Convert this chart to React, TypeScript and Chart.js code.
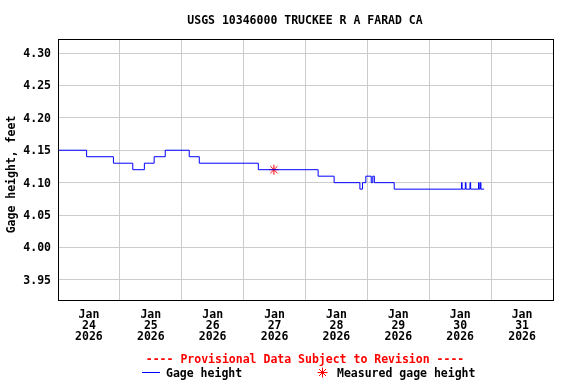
import React, { useEffect, useRef } from "react";
import { Chart, registerables } from "chart.js";

Chart.register(...registerables);

// Hours since Jan 24 2026 00:00 at which the gage height changes
const changeHours = [
  0, 11.1, 21.5, 29.0, 33.5, 37.3, 41.6, 50.9, 54.8, 77.7, 100.9, 107.1,
  117.1, 118.1, 119.4, 121.5, 122.1, 122.7, 130.4,
  156.5, 156.75, 158.0, 158.25, 159.8, 160.05, 163.1, 163.35, 163.8, 164.05, 165.3,
];
const gageHeight = [
  4.15, 4.14, 4.13, 4.12, 4.13, 4.14, 4.15, 4.14, 4.13, 4.12, 4.11, 4.10,
  4.09, 4.10, 4.11, 4.10, 4.11, 4.10, 4.09,
  4.10, 4.09, 4.10, 4.09, 4.10, 4.09, 4.10, 4.09, 4.10, 4.09, 4.09,
];
const measuredHours = [83.75];
const measuredHeight = [4.12];

const dayLabels = ["24", "25", "26", "27", "28", "29", "30", "31"];
const monthLabel = "Jan";
const yearLabel = "2026";
const yTicks = [3.95, 4.0, 4.05, 4.1, 4.15, 4.2, 4.25, 4.3];

const titleText = "USGS 10346000 TRUCKEE R A FARAD CA";
const yTitle = "Gage height, feet";
const provisionalText = "---- Provisional Data Subject to Revision ----";
const legendLine = "Gage height";
const legendStar = "Measured gage height";

const FONT = "'DejaVu Sans Mono', monospace";

export default function App() {
  const ref = useRef<HTMLCanvasElement | null>(null);

  useEffect(() => {
    if (!ref.current) return;
    const decor = {
      id: "decor",
      afterDraw(chart: any) {
        const ctx = chart.ctx as CanvasRenderingContext2D;
        const { left, right, top, bottom } = chart.chartArea;
        ctx.save();
        // box
        ctx.strokeStyle = "#000";
        ctx.lineWidth = 1;
        ctx.strokeRect(
          Math.round(left) + 0.5,
          Math.round(top) + 0.5,
          Math.round(right - left),
          Math.round(bottom - top)
        );
        ctx.font = `bold 11.5px ${FONT}`;
        ctx.textBaseline = "middle";
        // title
        ctx.fillStyle = "#000";
        ctx.textAlign = "center";
        ctx.fillText(titleText, 305, 21);
        // y title
        ctx.save();
        ctx.translate(12, 174.5);
        ctx.rotate(-Math.PI / 2);
        ctx.fillText(yTitle, 0, 0);
        ctx.restore();
        // provisional
        ctx.fillStyle = "#ff0000";
        ctx.fillText(provisionalText, 305, 360);
        // legend
        ctx.strokeStyle = "#0000ff";
        ctx.beginPath();
        ctx.moveTo(142, 372.5);
        ctx.lineTo(160, 372.5);
        ctx.stroke();
        ctx.fillStyle = "#000";
        ctx.textAlign = "left";
        ctx.fillText(legendLine, 166, 374);
        ctx.fillText(legendStar, 337, 374);
        // star
        ctx.strokeStyle = "#ff0000";
        ctx.beginPath();
        const cx = 322.5, cy = 372.5, r = 5;
        for (let i = 0; i < 4; i++) {
          const a = (i * Math.PI) / 4;
          ctx.moveTo(cx + r * Math.cos(a), cy + r * Math.sin(a));
          ctx.lineTo(cx - r * Math.cos(a), cy - r * Math.sin(a));
        }
        ctx.stroke();
        ctx.restore();
      },
    };

    const chart = new Chart(ref.current, {
      type: "line",
      data: {
        datasets: [
          {
            label: legendLine,
            data: changeHours.map((h, i) => ({ x: h, y: gageHeight[i] })),
            borderColor: "#0000ff",
            borderWidth: 1,
            pointRadius: 0,
            stepped: true,
            fill: false,
          },
          {
            label: legendStar,
            data: measuredHours.map((h, i) => ({ x: h, y: measuredHeight[i] })),
            showLine: false,
            pointStyle: "star",
            pointRadius: 5,
            borderColor: "#ff0000",
            backgroundColor: "#ff0000",
            borderWidth: 1,
          },
        ],
      },
      options: {
        responsive: false,
        animation: false,
        maintainAspectRatio: false,
        layout: { padding: { top: 39, right: 23, left: 0, bottom: 0 } },
        plugins: {
          legend: { display: false },
          title: { display: false },
          tooltip: { enabled: false },
        },
        scales: {
          x: {
            type: "linear",
            min: 0,
            max: 192,
            afterBuildTicks: (scale: any) => {
              const t = [];
              for (let v = 0; v <= 192; v += 12) t.push({ value: v });
              scale.ticks = t;
            },
            afterFit: (scale: any) => {
              scale.height = 84;
            },
            border: { display: false },
            grid: {
              drawTicks: false,
              color: (c: any) =>
                c.tick && c.tick.value % 24 === 0 ? "#cccccc" : "rgba(0,0,0,0)",
            },
            ticks: {
              autoSkip: false,
              maxRotation: 0,
              minRotation: 0,
              padding: 10,
              color: "#000",
              font: { family: FONT, size: 11.5, weight: "bold", lineHeight: "11px" },
              callback: (v: any) => {
                const n = Number(v);
                if (n % 24 === 12) {
                  const d = Math.floor(n / 24);
                  return [monthLabel, dayLabels[d], yearLabel];
                }
                return "";
              },
            },
          },
          y: {
            type: "linear",
            min: 3.919,
            max: 4.3216,
            afterBuildTicks: (scale: any) => {
              scale.ticks = yTicks.map((v) => ({ value: v }));
            },
            afterFit: (scale: any) => {
              scale.width = 58;
            },
            border: { display: false },
            grid: { drawTicks: false, color: "#cccccc" },
            ticks: {
              padding: 7,
              labelOffset: 1,
              color: "#000",
              font: { family: FONT, size: 11.5, weight: "bold" },
              callback: (v: any) => Number(v).toFixed(2),
            },
          },
        },
      },
      plugins: [decor],
    } as any);
    return () => chart.destroy();
  }, []);

  return (
    <div style={{ position: "fixed", left: 0, top: 0, width: 576, height: 384, background: "#fff" }}>
      <canvas ref={ref} width={576} height={384} style={{ display: "block" }} />
    </div>
  );
}
